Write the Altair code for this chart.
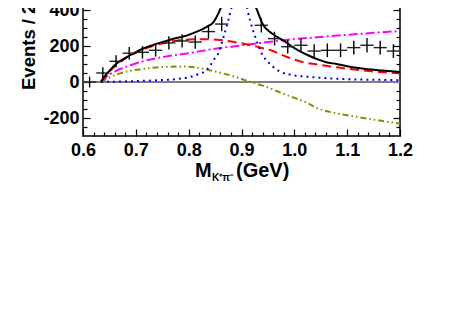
import altair as alt
import pandas as pd

FONT = "Liberation Sans"

# ---- data points (Events / 25 MeV) ----
bin_centers = [0.6125, 0.6375, 0.6625, 0.6875, 0.7125, 0.7375, 0.7625, 0.7875,
               0.8125, 0.8375, 0.8625, 0.8875, 0.9125, 0.9375, 0.9625, 0.9875,
               1.0125, 1.0375, 1.0625, 1.0875, 1.1125, 1.1375, 1.1625, 1.1875]
counts = [0, 50, 115, 160, 165, 176, 217, 228,
          222, 280, 322, 800, 650, 315, 241, 196,
          204, 172, 176, 176, 191, 204, 191, 172]
errors = [30, 32, 33, 35, 35, 35, 37, 37,
          37, 38, 40, 45, 45, 40, 38, 38,
          38, 38, 38, 38, 38, 40, 38, 38]
bin_half = 0.0125

# ---- fit curves ----
black_x = [0.634, 0.640, 0.645, 0.660, 0.690, 0.714, 0.740, 0.765, 0.800, 0.820,
           0.834, 0.847, 0.856, 0.866, 0.876, 0.886, 0.896, 0.906, 0.914, 0.923,
           0.932, 0.940, 0.954, 0.960, 0.973, 0.986, 0.992, 1.011, 1.030, 1.045,
           1.060, 1.080, 1.100, 1.150, 1.200]
black_y = [0, 28, 45, 93, 150, 186, 213, 235, 262, 285,
           306, 333, 380, 454, 580, 760, 850, 760, 580, 454,
           380, 322, 278, 265, 241, 218, 204, 170, 143, 125,
           110, 100, 88, 68, 56]

red_x = [0.634, 0.645, 0.66, 0.68, 0.70, 0.72, 0.74, 0.76, 0.78, 0.80, 0.83, 0.86,
         0.88, 0.90, 0.92, 0.94, 0.96, 0.975, 0.99, 1.01, 1.03, 1.05, 1.07, 1.10,
         1.13, 1.16, 1.20]
red_y = [0, 40, 88, 130, 162, 188, 207, 222, 231, 236, 238, 234,
         225, 215, 203, 188, 172, 152, 135, 115, 103, 95, 85, 74,
         64, 56, 48]

magenta_x = [0.634, 0.645, 0.66, 0.69, 0.72, 0.76, 0.80, 0.85, 0.90, 0.95, 1.00,
             1.05, 1.10, 1.15, 1.20]
magenta_y = [0, 30, 58, 93, 120, 143, 160, 185, 203, 222, 238,
             250, 262, 273, 283]

blue_x = [0.634, 0.66, 0.69, 0.72, 0.75, 0.78, 0.80, 0.82, 0.83, 0.84, 0.847, 0.856,
          0.866, 0.875, 0.885, 0.896, 0.907, 0.916, 0.926, 0.938, 0.954, 0.973,
          1.00, 1.03, 1.074, 1.12, 1.16, 1.20]
blue_y = [0, 2, 4, 7, 11, 17, 26, 45, 58, 88, 121, 158,
          250, 343, 454, 517, 454, 343, 250, 160, 100, 58,
          37, 28, 19, 14, 12, 10]

olive_x = [0.634, 0.65, 0.67, 0.69, 0.72, 0.75, 0.78, 0.80, 0.82, 0.85, 0.88, 0.90,
           0.92, 0.94, 0.96, 0.98, 1.00, 1.02, 1.045, 1.07, 1.10, 1.15, 1.20]
olive_y = [0, 25, 48, 63, 75, 83, 86, 85, 78, 58, 36, 17,
           -2, -20, -42, -66, -88, -110, -147, -168, -185, -209, -231]

# ---- axis ticks ----
x_major = [0.6, 0.7, 0.8, 0.9, 1.0, 1.1, 1.2]
x_minor = [0.62, 0.64, 0.66, 0.68, 0.72, 0.74, 0.76, 0.78, 0.82, 0.84, 0.86, 0.88,
           0.92, 0.94, 0.96, 0.98, 1.02, 1.04, 1.06, 1.08, 1.12, 1.14, 1.16, 1.18]
y_major = [-200, 0, 200, 400, 600, 800, 1000]
y_minor = [-250, -150, -100, -50, 50, 100, 150, 250, 300, 350, 450, 500, 550,
           650, 700, 750, 850, 900, 950]

xs = alt.Scale(domain=[0.6, 1.2], nice=False, zero=False)
ys = alt.Scale(domain=[-300, 1000], nice=False, zero=False)

lab = dict(labelFont=FONT, labelFontSize=18, labelFontWeight="bold",
           labelColor="black", labelOverlap=False, labelFlush=False)
tk = dict(domain=False, grid=False, tickColor="black", tickWidth=1.2, title=None)

ax_x_major = alt.Axis(orient="bottom", values=x_major, format=".1f", tickSize=7,
                      offset=-7, labelPadding=5, **lab, **tk)
ax_x_minor = alt.Axis(orient="bottom", values=x_minor, tickSize=4, offset=-4,
                      labels=False, **tk)
ax_y_major = alt.Axis(orient="left", values=y_major, tickSize=7, offset=-7,
                      labelPadding=4,
                      labelExpr="datum.value < 0 ? '-' + format(-datum.value, 'd') : format(datum.value, 'd')",
                      **lab, **tk)
ax_y_minor = alt.Axis(orient="left", values=y_minor, tickSize=4, offset=-4,
                      labels=False, **tk)
ax_yr_major = alt.Axis(orient="right", values=y_major, tickSize=7, offset=-7,
                       labels=False, **tk)
ax_yr_minor = alt.Axis(orient="right", values=y_minor, tickSize=4, offset=-4,
                       labels=False, **tk)

pts = pd.DataFrame({"x": bin_centers, "y": counts, "e": errors})
pts["ylo"] = pts["y"] - pts["e"]
pts["yhi"] = pts["y"] + pts["e"]
pts["xlo"] = pts["x"] - bin_half
pts["xhi"] = pts["x"] + bin_half

zero = alt.Chart(pd.DataFrame({"a": [0.6], "b": [1.2], "z": [0]})).mark_rule(
    color="#808080", strokeWidth=2
).encode(
    x=alt.X("a:Q", scale=xs, axis=None), x2="b",
    y=alt.Y("z:Q", scale=ys, axis=ax_yr_major),
)


def curve(xv, yv, color, dash, yaxis=None):
    df = pd.DataFrame({"x": xv, "y": yv})
    kw = dict(color=color, strokeWidth=2, clip=True, interpolate="monotone")
    if dash:
        kw["strokeDash"] = dash
    return alt.Chart(df).mark_line(**kw).encode(
        x=alt.X("x:Q", scale=xs, axis=None),
        y=alt.Y("y:Q", scale=ys, axis=yaxis),
    )


olive = curve(olive_x, olive_y, "#8B8B00", [6, 3, 1.5, 3, 1.5, 3], ax_yr_minor)
magenta = curve(magenta_x, magenta_y, "#FF00FF", [9, 3, 2, 3])
red = curve(red_x, red_y, "#FF0000", [9, 5])
blue = curve(blue_x, blue_y, "#0000FF", [2, 4])
black = curve(black_x, black_y, "black", None)

vbar = alt.Chart(pts).mark_rule(color="black", strokeWidth=1.4, clip=True).encode(
    x=alt.X("x:Q", scale=xs, axis=ax_x_major),
    y=alt.Y("ylo:Q", scale=ys, axis=ax_y_major), y2="yhi",
)
hbar = alt.Chart(pts).mark_rule(color="#222222", strokeWidth=1.4, clip=True).encode(
    x=alt.X("xlo:Q", scale=xs, axis=ax_x_minor), x2="xhi",
    y=alt.Y("y:Q", scale=ys, axis=ax_y_minor),
)

txt = dict(font=FONT, fontWeight="bold", color="black")
ytitle = alt.Chart(pd.DataFrame({"t": ["Events / 25 MeV"]})).mark_text(
    angle=270, align="left", baseline="middle", fontSize=18.5, **txt
).encode(text="t:N", x=alt.value(-54), y=alt.value(188))
xt_m = alt.Chart(pd.DataFrame({"t": ["M"]})).mark_text(
    align="left", baseline="alphabetic", fontSize=20, **txt
).encode(text="t:N", x=alt.value(112), y=alt.value(275))
xt_sub = alt.Chart(pd.DataFrame({"t": ["K\u207a\u03c0\u207b"]})).mark_text(
    align="left", baseline="alphabetic", fontSize=10, **txt
).encode(text="t:N", x=alt.value(129), y=alt.value(279))
xt_gev = alt.Chart(pd.DataFrame({"t": ["(GeV)"]})).mark_text(
    align="left", baseline="alphabetic", fontSize=20, **txt
).encode(text="t:N", x=alt.value(153), y=alt.value(275))

chart = alt.layer(
    zero, olive, magenta, red, blue, black, hbar, vbar, ytitle, xt_m, xt_sub, xt_gev
).resolve_axis(x="independent", y="independent").properties(
    width=317, height=234,
    autosize=alt.AutoSizeParams(type="none"),
    padding={"left": 75, "top": -106, "right": 56, "bottom": 90},
).configure_view(stroke="black", strokeWidth=1.5)

chart.save("out.html", embed_options={"renderer": "svg", "actions": False})
